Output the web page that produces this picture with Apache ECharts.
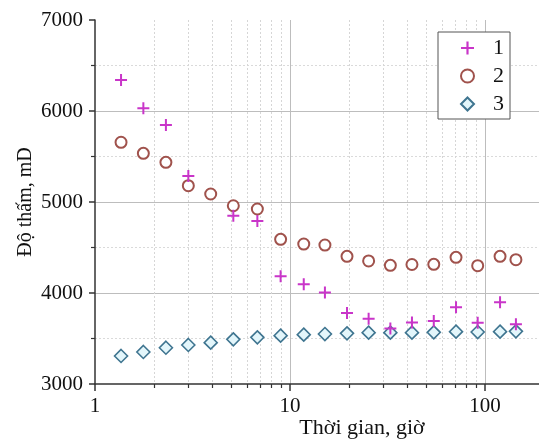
<!DOCTYPE html>
<html>
<head>
<meta charset="utf-8">
<script src="https://cdn.jsdelivr.net/npm/echarts@6/dist/echarts.min.js"></script>
<style>
  html, body { margin: 0; padding: 0; background: #fff; }
  #main { width: 539px; height: 444px; }
</style>
</head>
<body>
<div id="main"></div>
<script>
// time (hours) of each measurement
const hours = [1.36, 1.77, 2.31, 3.01, 3.92, 5.12, 6.8, 8.95, 11.76, 15.1, 19.6, 25.3, 32.7, 42.2, 54.6, 71, 91.7, 119.4, 144];
// permeability, mD
const series1 = [6340, 6030, 5845, 5285, null, 4850, 4790, 4185, 4095, 4005, 3780, 3718, 3610, 3675, 3692, 3843, 3674, 3898, 3656];
const series2 = [5656, 5535, 5436, 5179, 5088, 4959, 4923, 4590, 4538, 4527, 4403, 4352, 4304, 4313, 4315, 4392, 4300, 4403, 4366];
const series3 = [3308, 3352, 3399, 3429, 3454, 3491, 3513, 3531, 3542, 3549, 3557, 3564, 3564, 3564, 3568, 3575, 3571, 3575, 3579];
const seriesNames = ['1', '2', '3'];
const xLabels = [1, 10, 100];
const xMinorTicks = [2, 3, 4, 5, 6, 7, 8, 9, 20, 30, 40, 50, 60, 70, 80, 90];

const font = 'Liberation Serif';

function pairs(vals) {
  return hours.map(function (h, i) { return [h, vals[i]]; })
    .filter(function (p) { return p[1] != null; });
}

const chart = echarts.init(document.getElementById('main'));

chart.setOption({
  animation: false,
  grid: { left: 95, top: 20, width: 450, bottom: 60, outerBoundsMode: 'none' },
  legend: {
    orient: 'vertical',
    left: 438,
    top: 32,
    padding: [5, 6, 4, 22],
    itemGap: 6,
    itemWidth: 13,
    itemHeight: 13,
    backgroundColor: '#fff',
    borderColor: '#555',
    borderWidth: 1,
    borderRadius: 0,
    textStyle: { fontFamily: font, fontSize: 22, color: '#111', padding: [0, 0, 0, 14] },
    data: seriesNames
  },
  xAxis: {
    type: 'log',
    logBase: 10,
    min: 1,
    max: 203,
    name: 'Thời gian, giờ',
    nameLocation: 'middle',
    nameGap: 33,
    nameMoveOverlap: false,
    nameTextStyle: { fontFamily: font, fontSize: 22, color: '#111', padding: [0, 0, 0, 84] },
    axisLine: { lineStyle: { color: '#333', width: 1.5 } },
    axisTick: { length: 7, lineStyle: { color: '#333', width: 1.5 } },
    axisLabel: {
      fontFamily: font, fontSize: 21, color: '#111', margin: 12,
      formatter: function (v) {
        return xLabels.indexOf(Math.round(v)) >= 0 && Math.abs(v - Math.round(v)) < 1e-6 ? String(Math.round(v)) : '';
      }
    },
    splitLine: { show: true, showMinLine: false, showMaxLine: false, lineStyle: { color: '#bdbdbd', width: 1 } }
  },
  yAxis: {
    type: 'value',
    min: 3000,
    max: 7000,
    interval: 1000,
    name: 'Độ thấm, mD',
    nameLocation: 'middle',
    nameGap: 59,
    nameMoveOverlap: false,
    nameTextStyle: { fontFamily: font, fontSize: 20, color: '#111' },
    axisLine: { show: true, lineStyle: { color: '#333', width: 1.5 } },
    axisTick: { show: true, length: 6, lineStyle: { color: '#333', width: 1.5 } },
    minorTick: { show: true, splitNumber: 2, length: 4, lineStyle: { color: '#333', width: 1.2 } },
    axisLabel: {
      fontFamily: font, fontSize: 21, color: '#111', margin: 12,
      formatter: function (v) { return String(v); }
    },
    splitLine: { show: true, showMinLine: false, showMaxLine: false, lineStyle: { color: '#bdbdbd', width: 1 } },
    minorSplitLine: { show: true, lineStyle: { color: '#dadada', width: 1, type: [2, 2] } }
  },
  series: [
    {
      name: seriesNames[0],
      type: 'scatter',
      symbol: 'path://M5,0h2v5h5v2h-5v5h-2v-5h-5v-2h5z',
      symbolSize: 12,
      itemStyle: { color: '#c935c9', opacity: 1 },
      data: pairs(series1),
      z: 4
    },
    {
      name: seriesNames[1],
      type: 'scatter',
      symbol: 'emptyCircle',
      symbolSize: 11,
      itemStyle: { color: '#a0524c', borderColor: '#a0524c', borderWidth: 1.6, opacity: 1 },
      data: pairs(series2),
      z: 3
    },
    {
      name: seriesNames[2],
      type: 'scatter',
      symbol: 'diamond',
      symbolSize: 13,
      itemStyle: { color: '#e3f6fb', borderColor: '#3f7590', borderWidth: 1.6, opacity: 1 },
      data: pairs(series3),
      z: 3
    }
  ]
});

// minor decade grid lines and ticks (2..9, 20..90) placed through the log axis
const yTop = chart.convertToPixel({ yAxisIndex: 0 }, 7000);
const yBot = chart.convertToPixel({ yAxisIndex: 0 }, 3000);
const gfx = [];
xMinorTicks.forEach(function (v) {
  const x = Math.round(chart.convertToPixel({ xAxisIndex: 0 }, v)) + 0.5;
  gfx.push({
    type: 'line', silent: true, z: 0,
    shape: { x1: x, y1: yTop, x2: x, y2: yBot },
    style: { stroke: '#d6d6d6', lineWidth: 1, lineDash: [2, 2] }
  });
  gfx.push({
    type: 'line', silent: true, z: 1,
    shape: { x1: x, y1: yBot, x2: x, y2: yBot + 4 },
    style: { stroke: '#333', lineWidth: 1.2 }
  });
});
chart.setOption({ graphic: gfx });
</script>
</body>
</html>
